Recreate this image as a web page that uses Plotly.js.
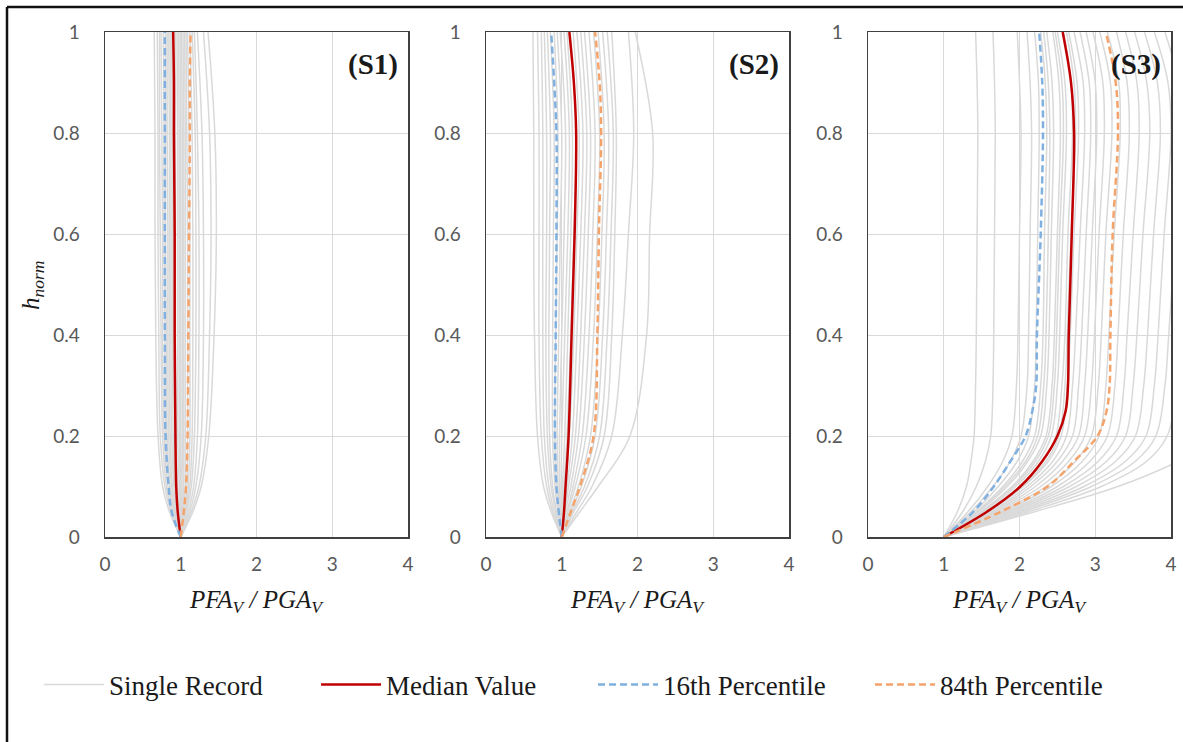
<!DOCTYPE html>
<html>
<head>
<meta charset="utf-8">
<script src="https://cdn.plot.ly/plotly-3.0.1.min.js"></script>
<style>
  html, body { margin: 0; padding: 0; background: #ffffff; }
  #chart { width: 1183px; height: 742px; }
</style>
</head>
<body>
<div id="chart"></div>
<script>
// Normalised height levels at which each record profile is sampled
const H_REC = [0, 0.05, 0.1, 0.2, 0.4, 0.6, 0.8, 1.0];
const H_REC3 = [0, 0.05, 0.1, 0.15, 0.2, 0.3, 0.4, 0.6, 0.8, 0.9, 1.0];
const H_STAT = [0, 0.05, 0.1, 0.2, 0.4, 0.6, 0.8, 0.9, 1.0];
const H_STAT3 = [0, 0.05, 0.1, 0.15, 0.2, 0.25, 0.3, 0.4, 0.6, 0.8, 0.9, 1.0];

// PFA_V / PGA_V profiles, one row per ground-motion record
const S1_RECORDS = [
  [1, 0.85, 0.76, 0.70, 0.67, 0.66, 0.66, 0.65],
  [1, 0.87, 0.79, 0.73, 0.71, 0.70, 0.70, 0.69],
  [1, 0.88, 0.81, 0.76, 0.74, 0.73, 0.72, 0.72],
  [1, 0.90, 0.83, 0.78, 0.76, 0.76, 0.75, 0.74],
  [1, 0.91, 0.85, 0.80, 0.79, 0.78, 0.78, 0.77],
  [1, 0.92, 0.86, 0.82, 0.81, 0.80, 0.80, 0.80],
  [1, 0.93, 0.88, 0.84, 0.83, 0.83, 0.82, 0.82],
  [1, 0.94, 0.89, 0.86, 0.85, 0.85, 0.85, 0.84],
  [1, 0.95, 0.91, 0.88, 0.87, 0.87, 0.87, 0.86],
  [1, 0.96, 0.92, 0.90, 0.89, 0.89, 0.89, 0.88],
  [1, 0.97, 0.94, 0.92, 0.91, 0.91, 0.91, 0.90],
  [1, 0.98, 0.96, 0.94, 0.93, 0.93, 0.93, 0.93],
  [1, 0.99, 0.98, 0.96, 0.96, 0.96, 0.96, 0.95],
  [1, 1.00, 0.99, 0.98, 0.98, 0.98, 0.98, 0.97],
  [1, 1.01, 1.01, 1.00, 1.00, 1.00, 1.00, 0.99],
  [1, 1.02, 1.03, 1.02, 1.02, 1.02, 1.02, 1.01],
  [1, 1.03, 1.04, 1.04, 1.04, 1.04, 1.04, 1.03],
  [1, 1.04, 1.06, 1.06, 1.06, 1.06, 1.06, 1.05],
  [1, 1.05, 1.08, 1.09, 1.09, 1.09, 1.08, 1.07],
  [1, 1.06, 1.10, 1.12, 1.12, 1.12, 1.11, 1.09],
  [1, 1.07, 1.12, 1.15, 1.16, 1.16, 1.15, 1.12],
  [1, 1.08, 1.14, 1.18, 1.20, 1.20, 1.19, 1.15],
  [1, 1.10, 1.17, 1.22, 1.24, 1.24, 1.22, 1.18],
  [1, 1.12, 1.20, 1.27, 1.30, 1.30, 1.28, 1.22],
  [1, 1.14, 1.24, 1.33, 1.38, 1.40, 1.38, 1.30],
  [1, 1.16, 1.27, 1.37, 1.44, 1.47, 1.45, 1.36]
];

const S2_RECORDS = [
  [1, 0.86, 0.76, 0.68, 0.64, 0.63, 0.63, 0.62],
  [1, 0.88, 0.80, 0.73, 0.70, 0.70, 0.70, 0.68],
  [1, 0.90, 0.83, 0.77, 0.75, 0.75, 0.75, 0.73],
  [1, 0.92, 0.86, 0.81, 0.79, 0.80, 0.80, 0.77],
  [1, 0.93, 0.88, 0.84, 0.83, 0.84, 0.85, 0.81],
  [1, 0.95, 0.91, 0.88, 0.88, 0.89, 0.90, 0.85],
  [1, 0.96, 0.93, 0.91, 0.92, 0.94, 0.95, 0.90],
  [1, 0.97, 0.95, 0.94, 0.96, 0.98, 1.00, 0.94],
  [1, 0.98, 0.97, 0.97, 1.00, 1.03, 1.05, 0.98],
  [1, 0.99, 0.99, 1.00, 1.04, 1.08, 1.10, 1.03],
  [1, 1.00, 1.01, 1.04, 1.08, 1.12, 1.14, 1.07],
  [1, 1.01, 1.03, 1.07, 1.12, 1.16, 1.19, 1.11],
  [1, 1.02, 1.05, 1.10, 1.16, 1.20, 1.23, 1.15],
  [1, 1.03, 1.07, 1.14, 1.20, 1.25, 1.28, 1.20],
  [1, 1.04, 1.09, 1.18, 1.25, 1.30, 1.33, 1.25],
  [1, 1.05, 1.12, 1.22, 1.30, 1.35, 1.38, 1.30],
  [1, 1.07, 1.15, 1.27, 1.36, 1.41, 1.44, 1.36],
  [1, 1.08, 1.18, 1.32, 1.42, 1.47, 1.50, 1.42],
  [1, 1.10, 1.22, 1.38, 1.48, 1.53, 1.56, 1.48],
  [1, 1.12, 1.26, 1.44, 1.54, 1.59, 1.62, 1.54],
  [1, 1.14, 1.30, 1.50, 1.60, 1.65, 1.68, 1.60],
  [1, 1.16, 1.34, 1.56, 1.66, 1.70, 1.72, 1.66],
  [1, 1.20, 1.40, 1.66, 1.80, 1.88, 1.95, 1.88],
  [1, 1.24, 1.48, 1.90, 2.12, 2.16, 2.20, 1.97]
];

const S3_RECORDS = [
  [1, 1.18, 1.30, 1.36, 1.40, 1.42, 1.43, 1.44, 1.45, 1.44, 1.42],
  [1, 1.25, 1.43, 1.55, 1.62, 1.65, 1.66, 1.67, 1.68, 1.67, 1.65],
  [1, 1.32, 1.58, 1.78, 1.90, 1.96, 1.98, 2.00, 2.02, 2.00, 1.97],
  [1, 1.36, 1.65, 1.88, 2.02, 2.10, 2.12, 2.14, 2.16, 2.14, 2.10],
  [1, 1.40, 1.72, 1.97, 2.12, 2.20, 2.22, 2.24, 2.26, 2.25, 2.20],
  [1, 1.43, 1.78, 2.04, 2.20, 2.28, 2.31, 2.33, 2.36, 2.34, 2.28],
  [1, 1.45, 1.81, 2.08, 2.24, 2.32, 2.35, 2.38, 2.40, 2.38, 2.32],
  [1, 1.46, 1.84, 2.11, 2.28, 2.36, 2.39, 2.42, 2.45, 2.43, 2.36],
  [1, 1.49, 1.90, 2.18, 2.35, 2.43, 2.46, 2.50, 2.54, 2.52, 2.44],
  [1, 1.50, 1.92, 2.21, 2.38, 2.46, 2.49, 2.53, 2.58, 2.56, 2.47],
  [1, 1.52, 1.95, 2.25, 2.42, 2.50, 2.53, 2.57, 2.62, 2.60, 2.50],
  [1, 1.55, 2.00, 2.31, 2.48, 2.56, 2.60, 2.64, 2.70, 2.68, 2.58],
  [1, 1.57, 2.03, 2.35, 2.52, 2.60, 2.63, 2.68, 2.74, 2.72, 2.62],
  [1, 1.58, 2.05, 2.38, 2.55, 2.63, 2.67, 2.72, 2.78, 2.76, 2.65],
  [1, 1.61, 2.10, 2.44, 2.62, 2.70, 2.74, 2.80, 2.86, 2.84, 2.72],
  [1, 1.64, 2.15, 2.50, 2.70, 2.78, 2.82, 2.88, 2.94, 2.92, 2.80],
  [1, 1.67, 2.21, 2.57, 2.78, 2.86, 2.90, 2.96, 3.02, 3.00, 2.88],
  [1, 1.70, 2.28, 2.65, 2.86, 2.95, 2.99, 3.05, 3.12, 3.10, 2.97],
  [1, 1.74, 2.35, 2.74, 2.95, 3.04, 3.08, 3.14, 3.22, 3.20, 3.06],
  [1, 1.78, 2.42, 2.83, 3.05, 3.14, 3.18, 3.25, 3.33, 3.31, 3.16],
  [1, 1.82, 2.50, 2.93, 3.16, 3.26, 3.30, 3.37, 3.45, 3.42, 3.28],
  [1, 1.86, 2.58, 3.04, 3.28, 3.38, 3.42, 3.50, 3.58, 3.55, 3.40],
  [1, 1.90, 2.66, 3.15, 3.40, 3.50, 3.55, 3.63, 3.72, 3.68, 3.52],
  [1, 1.95, 2.75, 3.27, 3.53, 3.64, 3.69, 3.77, 3.86, 3.82, 3.65],
  [1, 2.00, 2.85, 3.40, 3.67, 3.78, 3.83, 3.91, 4.00, 3.96, 3.78],
  [1, 2.05, 2.95, 3.53, 3.80, 3.92, 3.97, 4.06, 4.15, 4.10, 3.92],
  [1, 2.12, 3.08, 3.68, 3.95, 4.08, 4.14, 4.22, 4.30, 4.25, 4.05],
  [1, 2.20, 3.30, 4.10, 4.70, 5.20, 5.40, 5.50, 5.60, 5.60, 5.50]
];

// Median and percentile profiles
const S1_MEDIAN = [1.00, 0.96, 0.94, 0.93, 0.92, 0.92, 0.91, 0.91, 0.90];
const S1_P16    = [1.00, 0.88, 0.84, 0.80, 0.79, 0.79, 0.79, 0.79, 0.79];
const S1_P84    = [1.00, 1.04, 1.07, 1.09, 1.10, 1.11, 1.12, 1.12, 1.13];

const S2_MEDIAN = [1.00, 1.03, 1.05, 1.09, 1.13, 1.17, 1.19, 1.16, 1.10];
const S2_P16    = [1.00, 0.96, 0.93, 0.91, 0.92, 0.93, 0.93, 0.90, 0.86];
const S2_P84    = [1.00, 1.12, 1.24, 1.42, 1.47, 1.49, 1.52, 1.50, 1.44];

const S3_MEDIAN = [1.00, 1.57, 2.01, 2.30, 2.50, 2.61, 2.64, 2.65, 2.69, 2.72, 2.68, 2.57];
const S3_P16    = [1.00, 1.39, 1.66, 1.88, 2.08, 2.17, 2.22, 2.23, 2.28, 2.31, 2.30, 2.26];
const S3_P84    = [1.00, 1.75, 2.37, 2.72, 3.03, 3.15, 3.19, 3.20, 3.23, 3.30, 3.27, 3.14];

const PANEL_LABELS = ['(S1)', '(S2)', '(S3)'];
const X_TICKS = [0, 1, 2, 3, 4];
const Y_TICKS = [0, 0.2, 0.4, 0.6, 0.8, 1];

const SERIF = '"Liberation Serif", "Times New Roman", serif';
const SANS = 'Lato, Carlito, "Liberation Sans", sans-serif';

const panels = [
  { records: S1_RECORDS, hRec: H_REC,  hStat: H_STAT,  med: S1_MEDIAN, p16: S1_P16, p84: S1_P84 },
  { records: S2_RECORDS, hRec: H_REC,  hStat: H_STAT,  med: S2_MEDIAN, p16: S2_P16, p84: S2_P84 },
  { records: S3_RECORDS, hRec: H_REC3, hStat: H_STAT3, med: S3_MEDIAN, p16: S3_P16, p84: S3_P84 }
];

const traces = [];
panels.forEach((p, i) => {
  const xa = i === 0 ? 'x' : 'x' + (i + 1);
  const ya = i === 0 ? 'y' : 'y' + (i + 1);
  p.records.forEach((rec, k) => {
    traces.push({
      type: 'scatter', mode: 'lines', x: rec, y: p.hRec, xaxis: xa, yaxis: ya,
      line: { color: 'rgb(217,217,217)', width: 1.5, shape: 'spline', smoothing: 1 },
      name: 'Single Record', legendgroup: 'rec',
      showlegend: i === 0 && k === 0, hoverinfo: 'skip'
    });
  });
  traces.push({
    type: 'scatter', mode: 'lines', x: p.med, y: p.hStat, xaxis: xa, yaxis: ya,
    line: { color: '#c00000', width: 2.5, shape: 'spline', smoothing: 1 },
    name: 'Median Value', legendgroup: 'med', showlegend: i === 0
  });
  traces.push({
    type: 'scatter', mode: 'lines', x: p.p16, y: p.hStat, xaxis: xa, yaxis: ya,
    line: { color: '#7fb0e0', width: 2.5, dash: '7px,4px', shape: 'spline', smoothing: 1 },
    name: '16th Percentile', legendgroup: 'p16', showlegend: i === 0
  });
  traces.push({
    type: 'scatter', mode: 'lines', x: p.p84, y: p.hStat, xaxis: xa, yaxis: ya,
    line: { color: '#f4a36b', width: 2.5, dash: '7px,4px', shape: 'spline', smoothing: 1 },
    name: '84th Percentile', legendgroup: 'p84', showlegend: i === 0
  });
});

const W = 1183, Hpx = 742;
const xDomains = [[105, 408], [486, 789], [868, 1171]].map(d => [d[0] / W, d[1] / W]);
const yDomain = [1 - 537 / Hpx, 1 - 32 / Hpx];

function xAxis(dom, anchor) {
  return {
    domain: dom, anchor: anchor, range: [0, 4], tickvals: X_TICKS,
    showgrid: true, gridcolor: '#d9d9d9', gridwidth: 1, zeroline: false,
    showline: true, linecolor: '#404040', linewidth: 1.5, mirror: true,
    ticks: '', ticklabelstandoff: 10,
    tickfont: { family: SANS, size: 19, color: '#595959' }, fixedrange: true
  };
}
function yAxis(anchor) {
  return {
    domain: yDomain, anchor: anchor, range: [0, 1], tickvals: Y_TICKS,
    showgrid: true, gridcolor: '#d9d9d9', gridwidth: 1, zeroline: false,
    showline: true, linecolor: '#404040', linewidth: 1.5, mirror: true,
    ticks: '', ticklabelstandoff: 20,
    tickfont: { family: SANS, size: 19, color: '#595959' }, fixedrange: true
  };
}

const annotations = [];
PANEL_LABELS.forEach((lab, i) => {
  const n = i === 0 ? '' : String(i + 1);
  annotations.push({
    text: '<b>' + lab + '</b>', xref: 'x' + n + ' domain', yref: 'y' + n + ' domain',
    x: 0.975, y: 0.935, xanchor: 'right', yanchor: 'middle', showarrow: false,
    font: { family: SERIF, size: 29, color: '#1a1a1a' }
  });
  annotations.push({
    text: '<i>PFA<sub>V</sub> / PGA<sub>V</sub></i>', xref: 'x' + n + ' domain', yref: 'paper',
    x: 0.5, y: 1 - 601 / Hpx, xanchor: 'center', yanchor: 'middle', showarrow: false,
    font: { family: SERIF, size: 25, color: '#1a1a1a' }
  });
});
annotations.push({
  text: '<i>h<sub>norm</sub></i>', xref: 'paper', yref: 'paper',
  x: 32 / W, y: 1 - 285 / Hpx, xanchor: 'center', yanchor: 'middle', textangle: -90,
  showarrow: false, font: { family: SERIF, size: 25, color: '#1a1a1a' }
});

const layout = {
  width: W, height: Hpx,
  margin: { l: 0, r: 0, t: 0, b: 0, pad: 0 },
  paper_bgcolor: '#ffffff', plot_bgcolor: '#ffffff',
  xaxis: xAxis(xDomains[0], 'y'), yaxis: yAxis('x'),
  xaxis2: xAxis(xDomains[1], 'y2'), yaxis2: yAxis('x2'),
  xaxis3: xAxis(xDomains[2], 'y3'), yaxis3: yAxis('x3'),
  showlegend: true,
  legend: {
    orientation: 'h', x: 0.033, y: 1 - 685 / Hpx, xanchor: 'left', yanchor: 'middle',
    font: { family: SERIF, size: 27, color: '#1a1a1a' },
    itemwidth: 60, entrywidth: 202, entrywidthmode: 'pixels',
    bgcolor: 'rgba(0,0,0,0)', traceorder: 'normal'
  },
  annotations: annotations,
  shapes: [
    { type: 'line', xref: 'paper', yref: 'paper', x0: 7 / W, x1: 1, y0: 1 - 7 / Hpx, y1: 1 - 7 / Hpx,
      line: { color: '#111111', width: 2.5 } },
    { type: 'line', xref: 'paper', yref: 'paper', x0: 7 / W, x1: 7 / W, y0: 0, y1: 1 - 7 / Hpx,
      line: { color: '#111111', width: 2.5 } }
  ]
};

Plotly.newPlot('chart', traces, layout, { displayModeBar: false, staticPlot: true });
</script>
</body>
</html>
